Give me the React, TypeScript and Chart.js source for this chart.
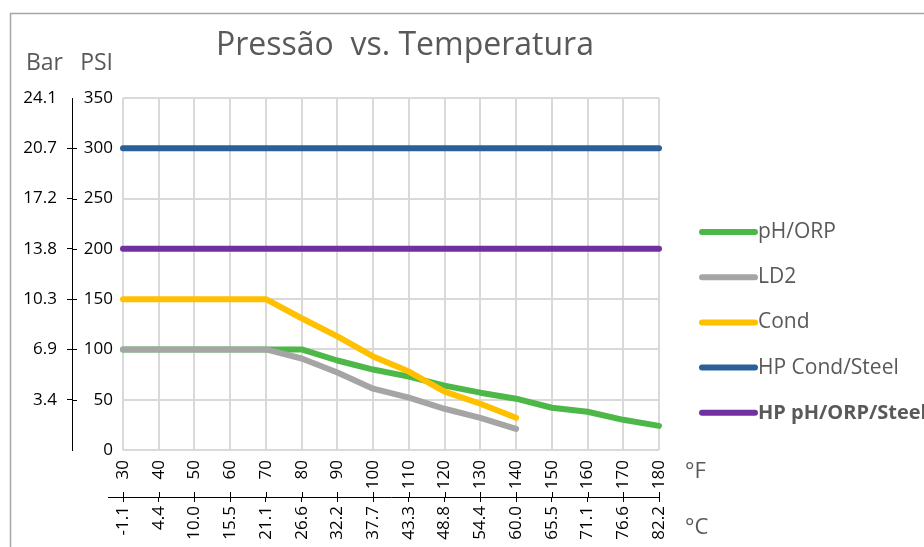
import { useEffect, useRef } from 'react';
import { Chart, registerables } from 'chart.js';

Chart.register(...registerables);

const titleText = 'Pressão  vs. Temperatura';
const fahrenheit = ['30', '40', '50', '60', '70', '80', '90', '100', '110', '120', '130', '140', '150', '160', '170', '180'];
const celsius = ['-1.1', '4.4', '10.0', '15.5', '21.1', '26.6', '32.2', '37.7', '43.3', '48.8', '54.4', '60.0', '65.5', '71.1', '76.6', '82.2'];
const barLabels = ['', '3.4', '6.9', '10.3', '13.8', '17.2', '20.7', '24.1'];

const phOrp = [100, 100, 100, 100, 100, 100, 89, 80, 73, 64, 57, 51, 42, 38, 30, 24];
const ld2 = [100, 100, 100, 100, 100, 91, 77, 61, 52, 41, 32, 21, null, null, null, null];
const cond = [150, 150, 150, 150, 150, 131, 113, 93, 78, 58, 46, 32, null, null, null, null];
const hpCondSteel = [300, 300, 300, 300, 300, 300, 300, 300, 300, 300, 300, 300, 300, 300, 300, 300];
const hpPhOrpSteel = [200, 200, 200, 200, 200, 200, 200, 200, 200, 200, 200, 200, 200, 200, 200, 200];

const seriesNames = ['pH/ORP', 'LD2', 'Cond', 'HP Cond/Steel', 'HP pH/ORP/Steel'];
const seriesColors = ['#4DB848', '#A5A5A5', '#FFC000', '#2A6099', '#7030A0'];
const seriesOrder = [2, 1, 0, 3, 4];

const FONT = '"Open Sans", sans-serif';

const decor = {
  id: 'decor',
  beforeDraw(chart: any) {
    const ctx = chart.ctx;
    ctx.save();
    ctx.fillStyle = '#ffffff';
    ctx.fillRect(0, 0, chart.width, chart.height);
    ctx.strokeStyle = '#A6A6A6';
    ctx.lineWidth = 1.5;
    ctx.beginPath();
    ctx.moveTo(10.5, chart.height);
    ctx.lineTo(10.5, 13.5);
    ctx.lineTo(chart.width, 13.5);
    ctx.stroke();
    ctx.restore();
  },
  afterDraw(chart: any) {
    const { ctx, chartArea, scales } = chart;
    ctx.save();
    // title
    ctx.fillStyle = '#595959';
    ctx.font = `32px ${FONT}`;
    ctx.textAlign = 'center';
    ctx.textBaseline = 'alphabetic';
    ctx.fillText(titleText, chartArea.left + 282, 55);
    // axis titles
    ctx.font = `23px ${FONT}`;
    ctx.textAlign = 'right';
    ctx.fillText('Bar', scales.yBar.right - 9, 70);
    ctx.fillText('PSI', scales.y.right - 10, 70);
    // units
    ctx.textAlign = 'left';
    ctx.font = `22px ${FONT}`;
    ctx.fillText('°F', chartArea.right + 26, 478);
    ctx.fillText('°C', chartArea.right + 26, 534);

    // crossing tick marks
    ctx.strokeStyle = '#000';
    ctx.lineWidth = 1;
    const yb = scales.yBar;
    ctx.beginPath();
    for (let v = 50; v <= 300; v += 50) {
      const py = Math.round(yb.getPixelForValue(v)) + 0.5;
      ctx.moveTo(yb.right, py);
      ctx.lineTo(yb.right + 5, py);
    }
    const x2 = scales.x2;
    for (let i = 0; i < celsius.length; i++) {
      const px = Math.round(x2.getPixelForTick(i)) + 0.5;
      ctx.moveTo(px, x2.top - 5);
      ctx.lineTo(px, x2.top);
    }
    ctx.moveTo(x2.left - 15, Math.round(x2.top) + 0.5);
    ctx.lineTo(x2.left, Math.round(x2.top) + 0.5);
    ctx.stroke();

    // legend
    const lx = chartArea.right + 43;
    const ly = chartArea.top + 134;
    ctx.lineCap = 'round';
    ctx.lineWidth = 6;
    ctx.textBaseline = 'middle';
    ctx.textAlign = 'left';
    seriesNames.forEach((name, i) => {
      const y = ly + i * 45.2;
      ctx.strokeStyle = seriesColors[i];
      ctx.beginPath();
      ctx.moveTo(lx, y);
      ctx.lineTo(lx + 53, y);
      ctx.stroke();
      ctx.fillStyle = '#595959';
      ctx.font = `${i === 4 ? 'bold 20px' : '21px'} ${FONT}`;
      ctx.fillText(name, lx + 56, y);
    });
    ctx.restore();
  },
};

export default function App() {
  const canvasRef = useRef<HTMLCanvasElement | null>(null);

  useEffect(() => {
    if (!canvasRef.current) return;
    const allData = [phOrp, ld2, cond, hpCondSteel, hpPhOrpSteel];
    const chart = new Chart(canvasRef.current, {
      type: 'line',
      data: {
        labels: fahrenheit,
        datasets: allData.map((d, i) => ({
          label: seriesNames[i],
          data: d,
          borderColor: seriesColors[i],
          backgroundColor: seriesColors[i],
          borderWidth: 6,
          pointRadius: 0,
          pointHoverRadius: 0,
          tension: 0,
          fill: false,
          spanGaps: false,
          borderCapStyle: 'round',
          borderJoinStyle: 'round',
          order: seriesOrder[i],
        })),
      },
      options: {
        responsive: false,
        animation: false,
        events: [],
        layout: { padding: { left: 0, top: 98, right: 265, bottom: 0 } },
        font: { family: FONT },
        plugins: {
          legend: { display: false },
          title: { display: false },
          tooltip: { enabled: false },
        },
        scales: {
          x: {
            type: 'category',
            position: 'bottom',
            offset: false,
            grid: { color: '#D9D9D9', lineWidth: 2, drawTicks: false },
            border: { display: false },
            ticks: {
              minRotation: 90,
              maxRotation: 90,
              autoSkip: false,
              padding: 10,
              color: '#000',
              font: { family: FONT, size: 17 },
            },
            afterFit: (s: any) => {
              s.height = 47;
            },
          },
          x2: {
            type: 'category',
            position: 'bottom',
            labels: celsius,
            offset: false,
            grid: { drawOnChartArea: false, drawTicks: true, tickLength: 5, color: '#000', lineWidth: 1 },
            border: { display: true, color: '#000', width: 1 },
            ticks: {
              minRotation: 90,
              maxRotation: 90,
              autoSkip: false,
              padding: 4,
              color: '#000',
              font: { family: FONT, size: 17 },
            },
            afterFit: (s: any) => {
              s.height = 50;
            },
          },
          y: {
            type: 'linear',
            position: 'left',
            weight: 0,
            min: 0,
            max: 350,
            grid: { color: '#D9D9D9', lineWidth: 2, drawTicks: false },
            border: { display: false },
            ticks: {
              stepSize: 50,
              padding: 10,
              color: '#000',
              font: { family: FONT, size: 17 },
            },
            afterFit: (s: any) => {
              s.width = 51;
            },
          },
          yBar: {
            type: 'linear',
            position: 'left',
            weight: 1,
            min: 0,
            max: 350,
            grid: {
              drawOnChartArea: false,
              drawTicks: true,
              tickLength: 5,
              lineWidth: 1,
              color: (c: any) => (c.tick && (c.tick.value === 0 || c.tick.value === 350) ? 'rgba(0,0,0,0)' : '#000'),
            },
            border: { display: true, color: '#000', width: 1 },
            ticks: {
              stepSize: 50,
              padding: 10,
              color: '#000',
              font: { family: FONT, size: 17 },
              callback: (v: any) => barLabels[Math.round(Number(v) / 50)] ?? '',
            },
            afterFit: (s: any) => {
              s.width = 72;
            },
          },
        },
      } as any,
      plugins: [decor],
    });
    return () => chart.destroy();
  }, []);

  return (
    <div style={{ position: 'absolute', left: 0, top: 0, width: 924, height: 547, overflow: 'hidden' }}>
      <canvas ref={canvasRef} width={924} height={547} style={{ display: 'block' }} />
    </div>
  );
}
